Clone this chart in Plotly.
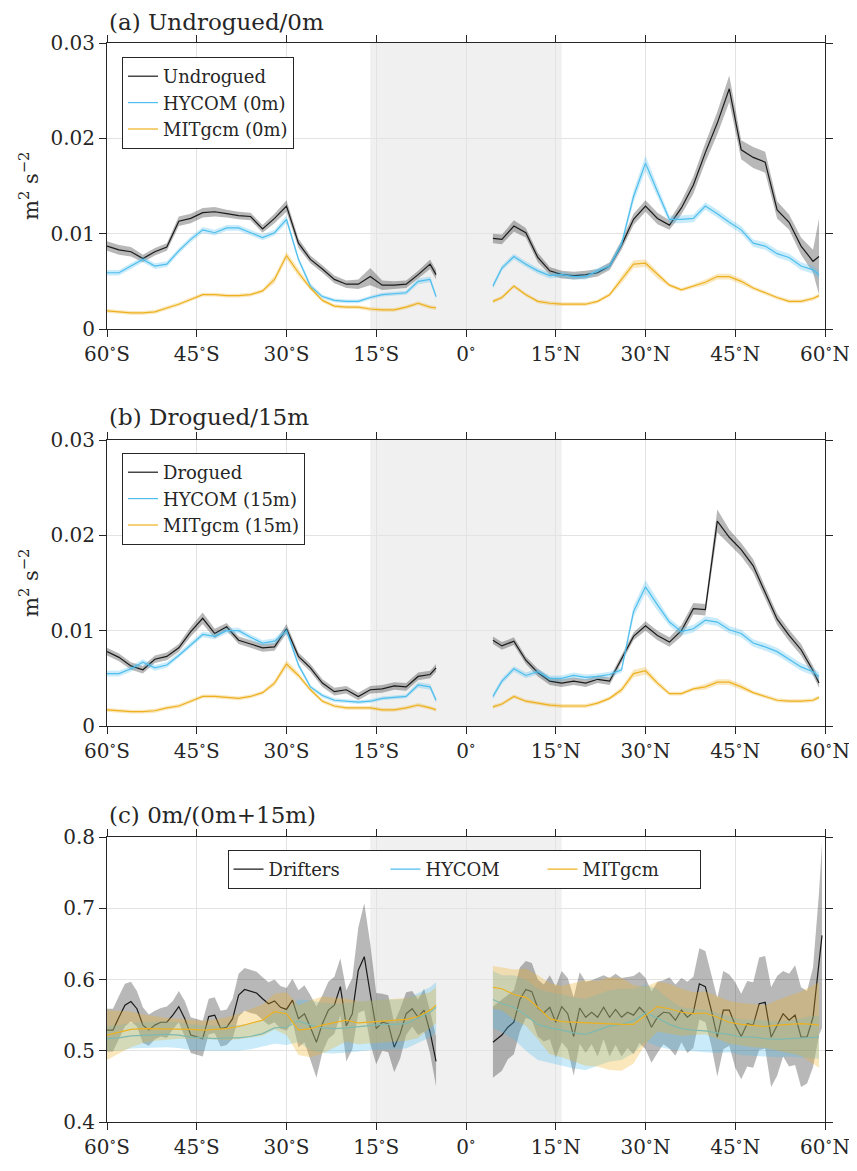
"""
Surface / 15m kinetic-energy comparison: drifters vs HYCOM vs MITgcm.
"""
import plotly.graph_objects as go
from plotly.subplots import make_subplots

# ---- latitude grids -------------------------------------------------------
LAT_S = [-60, -58, -56, -54, -52, -50, -48, -46, -44, -42, -40, -38, -36, -34, -32,
         -30, -28, -26, -24, -22, -20, -18, -16, -14, -12, -10, -8, -6, -5]
LAT_N = [4.5, 6, 8, 10, 12, 14, 16, 18, 20, 22, 24, 26, 28, 30, 32, 34, 36, 38, 40,
         42, 44, 46, 48, 50, 52, 54, 56, 58, 59]
# 1-degree grid used for the drifter ratio in panel (c)
LAT_S1 = [-60, -59, -58, -57, -56, -55, -54, -53, -52, -51, -50, -49, -48, -47, -46,
          -45, -44, -43, -42, -41, -40, -39, -38, -37, -36, -35, -34, -33, -32, -31,
          -30, -29, -28, -27, -26, -25, -24, -23, -22, -21, -20, -19, -18, -17, -16,
          -15, -14, -13, -12, -11, -10, -9, -8, -7, -6, -5]
LAT_N1 = [4.5, 6, 7, 8, 9, 10, 11, 12, 13, 14, 15, 16, 17, 18, 19, 20, 21, 22, 23,
          24, 25, 26, 27, 28, 29, 30, 31, 32, 33, 34, 35, 36, 37, 38, 39, 40, 41, 42,
          43, 44, 45, 46, 47, 48, 49, 50, 51, 52, 53, 54, 55, 56, 57, 58, 59, 59.5]

TICK_VALS = [-60, -45, -30, -15, 0, 15, 30, 45, 60]
TICK_TEXT = ["60<sup>∘</sup>S", "45<sup>∘</sup>S", "30<sup>∘</sup>S", "15<sup>∘</sup>S",
             "0<sup>∘</sup>", "15<sup>∘</sup>N", "30<sup>∘</sup>N", "45<sup>∘</sup>N",
             "60<sup>∘</sup>N"]
SHADE = (-16, 16)

# ---- (a) undrogued / 0m ---------------------------------------------------
A_OBS_S = [0.0087, 0.0083, 0.0081, 0.0074, 0.0081, 0.0086, 0.0113, 0.0116, 0.0122, 0.0123,
           0.0121, 0.0119, 0.0118, 0.0105, 0.0116, 0.0129, 0.0090, 0.0073, 0.0063, 0.0052,
           0.0047, 0.0047, 0.0055, 0.0046, 0.0046, 0.0047, 0.0057, 0.0068, 0.0057]
A_OBS_N = [0.0095, 0.0094, 0.0108, 0.0101, 0.0075, 0.0061, 0.0057, 0.0056, 0.0057, 0.0059,
           0.0066, 0.0088, 0.0115, 0.0129, 0.0116, 0.0109, 0.0127, 0.0151, 0.0185, 0.0216,
           0.0252, 0.0188, 0.0180, 0.0175, 0.0125, 0.0112, 0.0087, 0.0071, 0.0076]
A_HY_S = [0.0059, 0.0059, 0.0066, 0.0073, 0.0066, 0.0068, 0.0082, 0.0094, 0.0104, 0.0101,
          0.0106, 0.0106, 0.0101, 0.0096, 0.0101, 0.0115, 0.0073, 0.0045, 0.0034, 0.0030,
          0.0029, 0.0029, 0.0033, 0.0036, 0.0037, 0.0038, 0.0050, 0.0052, 0.0034]
A_HY_N = [0.0045, 0.0064, 0.0076, 0.0068, 0.0061, 0.0056, 0.0057, 0.0055, 0.0055, 0.0061,
          0.0066, 0.0089, 0.0139, 0.0174, 0.0144, 0.0115, 0.0115, 0.0116, 0.0129, 0.0121,
          0.0112, 0.0104, 0.0090, 0.0087, 0.0079, 0.0075, 0.0066, 0.0062, 0.0057]
A_MIT_S = [0.0019, 0.0018, 0.0017, 0.0017, 0.0018, 0.0022, 0.0026, 0.0031, 0.0036, 0.0036,
           0.0035, 0.0035, 0.0036, 0.0040, 0.0052, 0.0077, 0.0059, 0.0043, 0.0030, 0.0024,
           0.0023, 0.0023, 0.0021, 0.0020, 0.0020, 0.0023, 0.0027, 0.0023, 0.0022]
A_MIT_N = [0.0029, 0.0033, 0.0045, 0.0036, 0.0029, 0.0027, 0.0026, 0.0026, 0.0026, 0.0029,
           0.0036, 0.0052, 0.0068, 0.0069, 0.0057, 0.0046, 0.0041, 0.0045, 0.0049, 0.0055,
           0.0055, 0.0050, 0.0043, 0.0038, 0.0033, 0.0029, 0.0029, 0.0032, 0.0035]
A_OBS_S_ERR = [0.0005, 0.0005, 0.0005, 0.0004, 0.0004, 0.0004, 0.0005, 0.0005, 0.0005, 0.0005,
               0.0004, 0.0004, 0.0004, 0.0004, 0.0005, 0.0006, 0.0005, 0.0004, 0.0004, 0.0004,
               0.0004, 0.0005, 0.0009, 0.0005, 0.0004, 0.0004, 0.0004, 0.0005, 0.0005]
A_OBS_N_ERR = [0.0005, 0.0005, 0.0006, 0.0005, 0.0005, 0.0004, 0.0004, 0.0004, 0.0004, 0.0004,
               0.0004, 0.0005, 0.0006, 0.0006, 0.0006, 0.0005, 0.0007, 0.0009, 0.0010, 0.0012,
               0.0014, 0.0010, 0.0011, 0.0011, 0.0009, 0.0008, 0.0009, 0.0012, 0.0040]
A_HY_S_ERR = [0.0003, 0.0003, 0.0003, 0.0003, 0.0003, 0.0003, 0.0003, 0.0003, 0.0003, 0.0003,
              0.0003, 0.0003, 0.0003, 0.0003, 0.0003, 0.0004, 0.0003, 0.0003, 0.0002, 0.0002,
              0.0002, 0.0002, 0.0002, 0.0002, 0.0002, 0.0002, 0.0003, 0.0003, 0.0003]
A_HY_N_ERR = [0.0003, 0.0003, 0.0003, 0.0003, 0.0003, 0.0003, 0.0003, 0.0003, 0.0003, 0.0003,
              0.0003, 0.0004, 0.0006, 0.0008, 0.0006, 0.0004, 0.0004, 0.0004, 0.0004, 0.0004,
              0.0004, 0.0004, 0.0004, 0.0004, 0.0004, 0.0004, 0.0004, 0.0004, 0.0004]
A_MIT_S_ERR = [0.0002, 0.0002, 0.0002, 0.0002, 0.0002, 0.0002, 0.0002, 0.0002, 0.0002, 0.0002,
               0.0002, 0.0002, 0.0002, 0.0002, 0.0004, 0.0004, 0.0004, 0.0002, 0.0002, 0.0002,
               0.0002, 0.0002, 0.0002, 0.0002, 0.0002, 0.0002, 0.0002, 0.0002, 0.0002]
A_MIT_N_ERR = [0.0002, 0.0002, 0.0002, 0.0002, 0.0002, 0.0002, 0.0002, 0.0002, 0.0002, 0.0002,
               0.0002, 0.0004, 0.0004, 0.0004, 0.0004, 0.0002, 0.0002, 0.0002, 0.0003, 0.0003,
               0.0003, 0.0003, 0.0002, 0.0002, 0.0002, 0.0002, 0.0002, 0.0002, 0.0002]

# ---- (b) drogued / 15m ----------------------------------------------------
B_OBS_S = [0.0078, 0.0072, 0.0063, 0.0059, 0.0070, 0.0073, 0.0082, 0.0099, 0.0113, 0.0097,
           0.0104, 0.0090, 0.0086, 0.0082, 0.0083, 0.0102, 0.0073, 0.0061, 0.0045, 0.0036,
           0.0038, 0.0031, 0.0038, 0.0039, 0.0042, 0.0041, 0.0052, 0.0054, 0.0061]
B_OBS_N = [0.0090, 0.0084, 0.0089, 0.0069, 0.0056, 0.0047, 0.0045, 0.0047, 0.0045, 0.0049,
           0.0047, 0.0070, 0.0094, 0.0105, 0.0095, 0.0088, 0.0100, 0.0123, 0.0122, 0.0215,
           0.0198, 0.0185, 0.0168, 0.0140, 0.0112, 0.0095, 0.0080, 0.0058, 0.0045]
B_HY_S = [0.0055, 0.0055, 0.0060, 0.0067, 0.0061, 0.0064, 0.0074, 0.0085, 0.0096, 0.0094,
          0.0100, 0.0100, 0.0093, 0.0087, 0.0089, 0.0100, 0.0064, 0.0041, 0.0032, 0.0027,
          0.0026, 0.0025, 0.0026, 0.0029, 0.0030, 0.0031, 0.0043, 0.0041, 0.0027]
B_HY_N = [0.0031, 0.0047, 0.0060, 0.0053, 0.0057, 0.0050, 0.0050, 0.0053, 0.0051, 0.0052,
          0.0054, 0.0059, 0.0120, 0.0146, 0.0127, 0.0109, 0.0099, 0.0102, 0.0111, 0.0109,
          0.0101, 0.0097, 0.0087, 0.0083, 0.0078, 0.0070, 0.0062, 0.0057, 0.0052]
B_MIT_S = [0.0017, 0.0016, 0.0015, 0.0015, 0.0016, 0.0019, 0.0021, 0.0026, 0.0031, 0.0031,
           0.0030, 0.0029, 0.0031, 0.0035, 0.0045, 0.0065, 0.0053, 0.0038, 0.0026, 0.0021,
           0.0019, 0.0019, 0.0019, 0.0017, 0.0017, 0.0019, 0.0022, 0.0019, 0.0017]
B_MIT_N = [0.0020, 0.0023, 0.0031, 0.0026, 0.0024, 0.0022, 0.0021, 0.0021, 0.0021, 0.0024,
           0.0029, 0.0038, 0.0055, 0.0058, 0.0045, 0.0034, 0.0034, 0.0039, 0.0041, 0.0046,
           0.0046, 0.0041, 0.0035, 0.0031, 0.0027, 0.0026, 0.0026, 0.0027, 0.0030]
B_OBS_S_ERR = [0.0004, 0.0004, 0.0004, 0.0004, 0.0004, 0.0004, 0.0004, 0.0005, 0.0006, 0.0005,
               0.0004, 0.0004, 0.0004, 0.0004, 0.0004, 0.0005, 0.0004, 0.0004, 0.0004, 0.0004,
               0.0004, 0.0004, 0.0004, 0.0004, 0.0004, 0.0004, 0.0004, 0.0004, 0.0004]
B_OBS_N_ERR = [0.0004, 0.0004, 0.0004, 0.0004, 0.0004, 0.0004, 0.0004, 0.0004, 0.0004, 0.0004,
               0.0004, 0.0004, 0.0004, 0.0005, 0.0005, 0.0005, 0.0006, 0.0006, 0.0006, 0.0012,
               0.0008, 0.0007, 0.0007, 0.0006, 0.0006, 0.0006, 0.0006, 0.0005, 0.0005]
B_HY_S_ERR = [0.0003, 0.0003, 0.0003, 0.0003, 0.0003, 0.0003, 0.0003, 0.0003, 0.0003, 0.0003,
              0.0003, 0.0003, 0.0003, 0.0003, 0.0003, 0.0004, 0.0003, 0.0002, 0.0002, 0.0002,
              0.0002, 0.0002, 0.0002, 0.0002, 0.0002, 0.0002, 0.0003, 0.0003, 0.0003]
B_HY_N_ERR = [0.0003, 0.0003, 0.0003, 0.0003, 0.0003, 0.0003, 0.0003, 0.0003, 0.0003, 0.0003,
              0.0003, 0.0003, 0.0006, 0.0007, 0.0006, 0.0004, 0.0004, 0.0004, 0.0004, 0.0004,
              0.0004, 0.0004, 0.0004, 0.0004, 0.0004, 0.0004, 0.0004, 0.0004, 0.0004]
B_MIT_S_ERR = [0.0002, 0.0002, 0.0002, 0.0002, 0.0002, 0.0002, 0.0002, 0.0002, 0.0002, 0.0002,
               0.0002, 0.0002, 0.0002, 0.0002, 0.0003, 0.0004, 0.0003, 0.0002, 0.0002, 0.0002,
               0.0002, 0.0002, 0.0002, 0.0002, 0.0002, 0.0002, 0.0002, 0.0002, 0.0002]
B_MIT_N_ERR = [0.0002, 0.0002, 0.0002, 0.0002, 0.0002, 0.0002, 0.0002, 0.0002, 0.0002, 0.0002,
               0.0002, 0.0003, 0.0004, 0.0004, 0.0003, 0.0002, 0.0002, 0.0002, 0.0003, 0.0003,
               0.0003, 0.0003, 0.0002, 0.0002, 0.0002, 0.0002, 0.0002, 0.0002, 0.0002]

# ---- (c) ratio 0m/(0m+15m) ------------------------------------------------
C_OBS_S = [0.529, 0.529, 0.547, 0.564, 0.569, 0.559, 0.536, 0.529, 0.536, 0.540,
           0.540, 0.550, 0.562, 0.545, 0.522, 0.519, 0.517, 0.548, 0.550, 0.531,
           0.533, 0.545, 0.578, 0.586, 0.583, 0.581, 0.573, 0.566, 0.570, 0.561,
           0.558, 0.571, 0.545, 0.552, 0.533, 0.512, 0.538, 0.557, 0.564, 0.590,
           0.535, 0.552, 0.613, 0.632, 0.580, 0.531, 0.540, 0.538, 0.505, 0.524,
           0.552, 0.559, 0.547, 0.557, 0.526, 0.485]
C_OBS_N = [0.512, 0.522, 0.533, 0.540, 0.572, 0.586, 0.583, 0.560, 0.553, 0.561,
           0.540, 0.562, 0.552, 0.520, 0.560, 0.547, 0.554, 0.547, 0.561, 0.547,
           0.558, 0.547, 0.554, 0.550, 0.561, 0.552, 0.533, 0.547, 0.554, 0.553,
           0.543, 0.557, 0.547, 0.554, 0.594, 0.590, 0.557, 0.519, 0.557, 0.557,
           0.536, 0.520, 0.538, 0.536, 0.566, 0.568, 0.519, 0.535, 0.552, 0.543,
           0.550, 0.519, 0.519, 0.547, 0.622, 0.662]
C_OBS_S_ERR = [0.030, 0.030, 0.030, 0.030, 0.028, 0.025, 0.025, 0.022, 0.020, 0.020,
               0.022, 0.020, 0.022, 0.025, 0.025, 0.025, 0.025, 0.025, 0.025, 0.025,
               0.025, 0.028, 0.030, 0.030, 0.030, 0.030, 0.030, 0.030, 0.030, 0.030,
               0.030, 0.030, 0.040, 0.040, 0.045, 0.050, 0.040, 0.040, 0.040, 0.040,
               0.050, 0.050, 0.060, 0.075, 0.070, 0.050, 0.040, 0.040, 0.035, 0.035,
               0.030, 0.025, 0.025, 0.030, 0.030, 0.035]
C_OBS_N_ERR = [0.050, 0.050, 0.045, 0.045, 0.045, 0.040, 0.040, 0.040, 0.040, 0.045,
               0.050, 0.050, 0.050, 0.055, 0.050, 0.050, 0.045, 0.055, 0.045, 0.055,
               0.050, 0.055, 0.050, 0.055, 0.050, 0.050, 0.050, 0.050, 0.045, 0.050,
               0.050, 0.045, 0.050, 0.050, 0.050, 0.050, 0.050, 0.055, 0.055, 0.050,
               0.060, 0.060, 0.060, 0.060, 0.065, 0.065, 0.070, 0.070, 0.060, 0.065,
               0.070, 0.070, 0.065, 0.070, 0.100, 0.130]
C_HY_S = [0.517, 0.518, 0.521, 0.522, 0.523, 0.523, 0.522, 0.519, 0.518, 0.517,
          0.518, 0.518, 0.520, 0.524, 0.532, 0.533, 0.542, 0.536, 0.532, 0.531,
          0.532, 0.534, 0.536, 0.537, 0.537, 0.538, 0.546, 0.554, 0.561]
C_HY_N = [0.572, 0.566, 0.561, 0.550, 0.537, 0.532, 0.529, 0.525, 0.523, 0.529,
          0.535, 0.537, 0.542, 0.553, 0.546, 0.537, 0.531, 0.529, 0.528, 0.525,
          0.523, 0.519, 0.519, 0.517, 0.516, 0.517, 0.518, 0.519, 0.519]
C_MIT_S = [0.522, 0.526, 0.530, 0.531, 0.531, 0.531, 0.531, 0.530, 0.529, 0.530,
           0.531, 0.534, 0.538, 0.543, 0.555, 0.552, 0.529, 0.531, 0.536, 0.540,
           0.543, 0.539, 0.540, 0.542, 0.543, 0.544, 0.548, 0.557, 0.564]
C_MIT_N = [0.589, 0.587, 0.579, 0.575, 0.561, 0.545, 0.541, 0.540, 0.539, 0.538,
           0.538, 0.537, 0.537, 0.550, 0.562, 0.559, 0.554, 0.552, 0.553, 0.547,
           0.540, 0.537, 0.535, 0.534, 0.536, 0.537, 0.538, 0.537, 0.536]
C_HY_S_ERR = [0.018, 0.018, 0.018, 0.018, 0.018, 0.018, 0.018, 0.018, 0.018, 0.018,
              0.018, 0.018, 0.018, 0.018, 0.022, 0.025, 0.030, 0.035, 0.035, 0.035,
              0.035, 0.035, 0.035, 0.035, 0.035, 0.035, 0.035, 0.035, 0.035]
C_HY_N_ERR = [0.040, 0.040, 0.045, 0.050, 0.050, 0.050, 0.050, 0.050, 0.050, 0.050,
              0.050, 0.050, 0.045, 0.040, 0.040, 0.035, 0.030, 0.030, 0.030, 0.028,
              0.025, 0.025, 0.025, 0.025, 0.025, 0.025, 0.028, 0.030, 0.030]
C_MIT_S_ERR = [0.035, 0.030, 0.025, 0.020, 0.017, 0.015, 0.014, 0.013, 0.013, 0.014,
               0.016, 0.018, 0.020, 0.022, 0.025, 0.030, 0.035, 0.040, 0.040, 0.035,
               0.030, 0.030, 0.030, 0.030, 0.030, 0.030, 0.030, 0.025, 0.025]
C_MIT_N_ERR = [0.030, 0.030, 0.035, 0.040, 0.045, 0.050, 0.050, 0.055, 0.060, 0.060,
               0.065, 0.065, 0.055, 0.040, 0.035, 0.035, 0.033, 0.030, 0.030, 0.030,
               0.030, 0.030, 0.030, 0.030, 0.035, 0.040, 0.045, 0.055, 0.060]

# ---- styling --------------------------------------------------------------
FONT = "DejaVu Serif"
AXIS_COLOR = "#262626"
OBS_COLOR = "#1a1a1a"
HY_COLOR = "#4DBEEE"
MIT_COLOR = "#EDB120"
OBS_FILL = "rgba(0,0,0,0.28)"
HY_FILL = "rgba(77,190,238,0.30)"
MIT_FILL = "rgba(237,177,32,0.30)"

# page is 857x1171 but the html body has an 8px margin
PAD = 8
W, H = 857 - 2 * PAD, 1171 - 2 * PAD


def px(x):
    return (x - PAD) / W


def py(y):
    return 1 - (y - PAD) / H


X_DOMAIN = [px(107), px(825)]
Y_DOMAINS = [[py(329), py(43)], [py(726), py(440)], [py(1122), py(837)]]


def add_band(fig, lats, vals, errs, color, row):
    upper = [v + e for v, e in zip(vals, errs)]
    lower = [v - e for v, e in zip(vals, errs)]
    fig.add_trace(go.Scatter(
        x=lats + lats[::-1], y=upper + lower[::-1],
        mode='lines', fill='toself', fillcolor=color,
        line=dict(width=0), hoverinfo='skip', showlegend=False
    ), row=row, col=1)


def add_series(fig, lat_s, lat_n, s_vals, n_vals, s_err, n_err, name, color, fill, row, legend):
    add_band(fig, lat_s, s_vals, s_err, fill, row)
    add_band(fig, lat_n, n_vals, n_err, fill, row)
    fig.add_trace(go.Scatter(
        x=lat_s + [None] + lat_n, y=s_vals + [None] + n_vals,
        mode='lines', name=name, legend=legend,
        line=dict(color=color, width=1.2)
    ), row=row, col=1)


fig = make_subplots(rows=3, cols=1)

# (a)
add_series(fig, LAT_S, LAT_N, A_OBS_S, A_OBS_N, A_OBS_S_ERR, A_OBS_N_ERR,
           "Undrogued", OBS_COLOR, OBS_FILL, 1, "legend")
add_series(fig, LAT_S, LAT_N, A_HY_S, A_HY_N, A_HY_S_ERR, A_HY_N_ERR,
           "HYCOM (0m)", HY_COLOR, HY_FILL, 1, "legend")
add_series(fig, LAT_S, LAT_N, A_MIT_S, A_MIT_N, A_MIT_S_ERR, A_MIT_N_ERR,
           "MITgcm (0m)", MIT_COLOR, MIT_FILL, 1, "legend")
# (b)
add_series(fig, LAT_S, LAT_N, B_OBS_S, B_OBS_N, B_OBS_S_ERR, B_OBS_N_ERR,
           "Drogued", OBS_COLOR, OBS_FILL, 2, "legend2")
add_series(fig, LAT_S, LAT_N, B_HY_S, B_HY_N, B_HY_S_ERR, B_HY_N_ERR,
           "HYCOM (15m)", HY_COLOR, HY_FILL, 2, "legend2")
add_series(fig, LAT_S, LAT_N, B_MIT_S, B_MIT_N, B_MIT_S_ERR, B_MIT_N_ERR,
           "MITgcm (15m)", MIT_COLOR, MIT_FILL, 2, "legend2")
# (c)
add_series(fig, LAT_S1, LAT_N1, C_OBS_S, C_OBS_N, C_OBS_S_ERR, C_OBS_N_ERR,
           "Drifters", OBS_COLOR, OBS_FILL, 3, "legend3")
add_series(fig, LAT_S, LAT_N, C_HY_S, C_HY_N, C_HY_S_ERR, C_HY_N_ERR,
           "HYCOM", HY_COLOR, HY_FILL, 3, "legend3")
add_series(fig, LAT_S, LAT_N, C_MIT_S, C_MIT_N, C_MIT_S_ERR, C_MIT_N_ERR,
           "MITgcm", MIT_COLOR, MIT_FILL, 3, "legend3")

# equatorial band
for r in (1, 2, 3):
    fig.add_vrect(x0=SHADE[0], x1=SHADE[1], fillcolor="#f0f0f0", line_width=0,
                  layer="below", row=r, col=1)

axis_style = dict(
    showline=True, linecolor=AXIS_COLOR, linewidth=1, mirror='ticks',
    ticks='outside', ticklen=7, tickcolor=AXIS_COLOR, tickwidth=1,
    showgrid=True, gridcolor="#e3e3e3", gridwidth=1, zeroline=False,
    automargin=False, ticklabeloverflow='allow',
    tickfont=dict(family=FONT, size=20, color=AXIS_COLOR)
)
fig.update_xaxes(range=[-60, 60], tickvals=TICK_VALS, ticktext=TICK_TEXT,
                 domain=X_DOMAIN, **axis_style)
for r in (1, 2, 3):
    fig.update_yaxes(domain=Y_DOMAINS[r - 1], row=r, col=1)
fig.update_yaxes(range=[0, 0.03], tickvals=[0, 0.01, 0.02, 0.03],
                 ticktext=["0", "0.01", "0.02", "0.03"], row=1, col=1, **axis_style)
fig.update_yaxes(range=[0, 0.03], tickvals=[0, 0.01, 0.02, 0.03],
                 ticktext=["0", "0.01", "0.02", "0.03"], row=2, col=1, **axis_style)
fig.update_yaxes(range=[0.4, 0.8], tickvals=[0.4, 0.5, 0.6, 0.7, 0.8],
                 ticktext=["0.4", "0.5", "0.6", "0.7", "0.8"], row=3, col=1, **axis_style)

legend_style = dict(
    bgcolor="white", bordercolor=AXIS_COLOR, borderwidth=1,
    font=dict(family=FONT, size=18, color=AXIS_COLOR), tracegroupgap=0
)
fig.update_layout(
    width=W, height=H,
    margin=dict(l=0, r=0, t=0, b=0),
    template="none",
    paper_bgcolor="white", plot_bgcolor="white",
    font=dict(family=FONT, color=AXIS_COLOR),
    legend=dict(x=px(122), y=py(57), xanchor='left', yanchor='top', **legend_style),
    legend2=dict(x=px(122), y=py(453), xanchor='left', yanchor='top', **legend_style),
    legend3=dict(x=px(464), y=py(850), xanchor='center', yanchor='top',
                 orientation='h', entrywidth=112, **legend_style),
)

# panel titles and y labels
for txt, yc in [("(a) Undrogued/0m", 22), ("(b) Drogued/15m", 417), ("(c) 0m/(0m+15m)", 815)]:
    fig.add_annotation(text=txt, x=px(107), y=py(yc), xref='paper', yref='paper',
                       xanchor='left', yanchor='middle', showarrow=False,
                       font=dict(family=FONT, size=23, color=AXIS_COLOR))
for yc in (186, 583):
    fig.add_annotation(text="m<sup>2</sup> s<sup>−2</sup>", x=px(29), y=py(yc),
                       xref='paper', yref='paper', textangle=-90, showarrow=False,
                       xanchor='center', yanchor='middle',
                       font=dict(family=FONT, size=21, color=AXIS_COLOR))

fig.write_html("out.html")
